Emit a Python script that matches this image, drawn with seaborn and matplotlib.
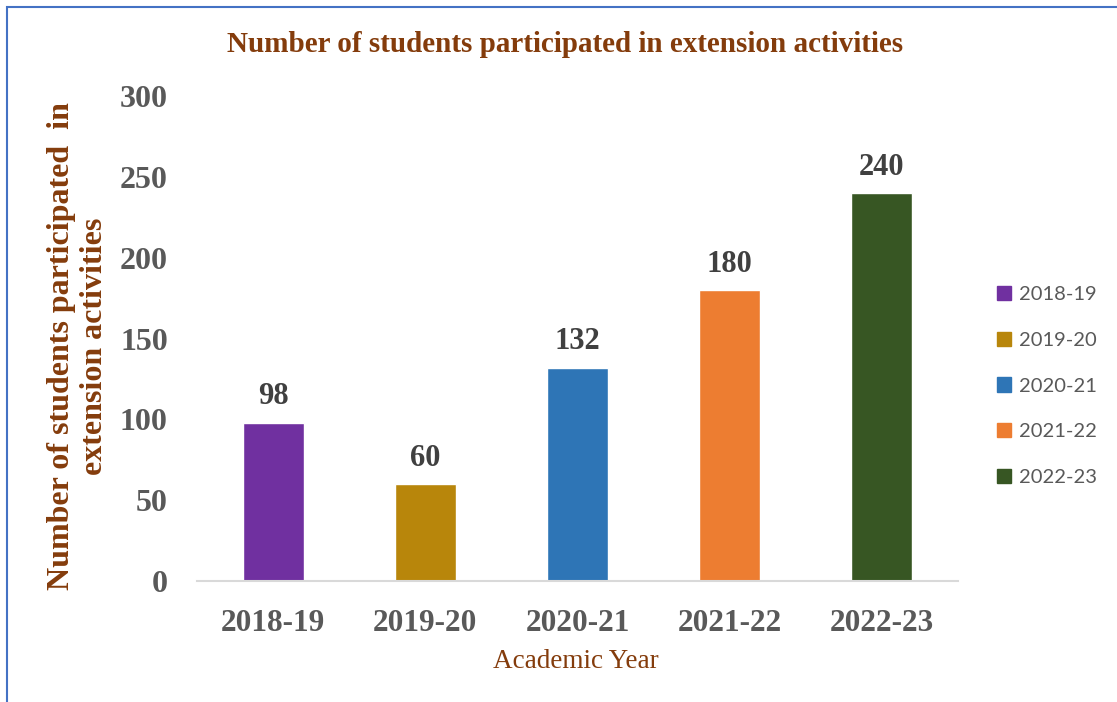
import matplotlib
matplotlib.use("Agg")
import matplotlib.pyplot as plt
import matplotlib.patches as mpatches
import seaborn as sns
import pandas as pd

years = ["2018-19", "2019-20", "2020-21", "2021-22", "2022-23"]
students = [98, 60, 132, 180, 240]
colors = ["#7030A0", "#B8860B", "#2E75B6", "#ED7D31", "#375623"]
y_ticks = [0, 50, 100, 150, 200, 250, 300]

sns.set_theme(style="white")
plt.rcParams['font.family'] = ['Liberation Serif', 'DejaVu Serif']

df = pd.DataFrame({"year": years, "students": students})

fig = plt.figure(figsize=(11.17, 7.02), dpi=100)
ax = fig.add_axes([197/1117, 1 - 581/702, (958-197)/1117, (581-96)/702])

sns.barplot(data=df, x="year", y="students", hue="year", palette=colors,
            dodge=False, width=0.4, legend=False, ax=ax, saturation=1)

ax.set_ylim(0, 300)
ax.set_yticks(y_ticks)
ax.set_xlim(-0.5, 4.5)
tick_gray = "#595959"
ax.tick_params(axis="both", length=0, colors=tick_gray)
ax.tick_params(axis="y", pad=21, labelsize=23)
ax.tick_params(axis="x", pad=20, labelsize=22.5)
for lab in ax.get_xticklabels() + ax.get_yticklabels():
    lab.set_fontweight("bold")

for s in ["top", "right", "left"]:
    ax.spines[s].set_visible(False)
ax.spines["bottom"].set_color("#D9D9D9")
ax.spines["bottom"].set_linewidth(1.5)

for i, v in enumerate(students):
    ax.annotate(str(v), (i, v), xytext=(0, 8), textcoords="offset points",
                ha="center", va="bottom", fontsize=22, fontweight="bold",
                color="#404040")

brown = "#843C0C"
ax.set_xlabel("")
ax.set_ylabel("")
fig.text(576/1117, 1 - 662/702, "Academic Year", ha="center", va="center",
         fontsize=19.5, color=brown)
fig.text(78/1117, 1 - 346/702,
         "Number of students participated  in\nextension activities",
         ha="center", va="center", rotation=90, multialignment="center",
         fontsize=23, fontweight="bold", color=brown, linespacing=1.2)
fig.text(565/1117, 1 - 45/702, "Number of students participated in extension activities",
         ha="center", va="center", fontsize=21, fontweight="bold", color=brown)

handles = [mpatches.Patch(color=c, label=y) for c, y in zip(colors, years)]
leg = fig.legend(handles=handles, loc="center left",
                 bbox_to_anchor=(979/1117, 1 - 386/702), frameon=False,
                 prop={"family": "Lato", "size": 14.5}, labelspacing=1.42,
                 handlelength=0.7, handleheight=0.7, handletextpad=0.4)
for t in leg.get_texts():
    t.set_color(tick_gray)

border = mpatches.Rectangle((6.5/1117, -0.1), 1.2, (702 - 6.5)/702 + 0.1,
                            transform=fig.transFigure, fill=False,
                            edgecolor="#4472C4", linewidth=1.5)
fig.patches.append(border)

fig.savefig("out.png", dpi=100)
